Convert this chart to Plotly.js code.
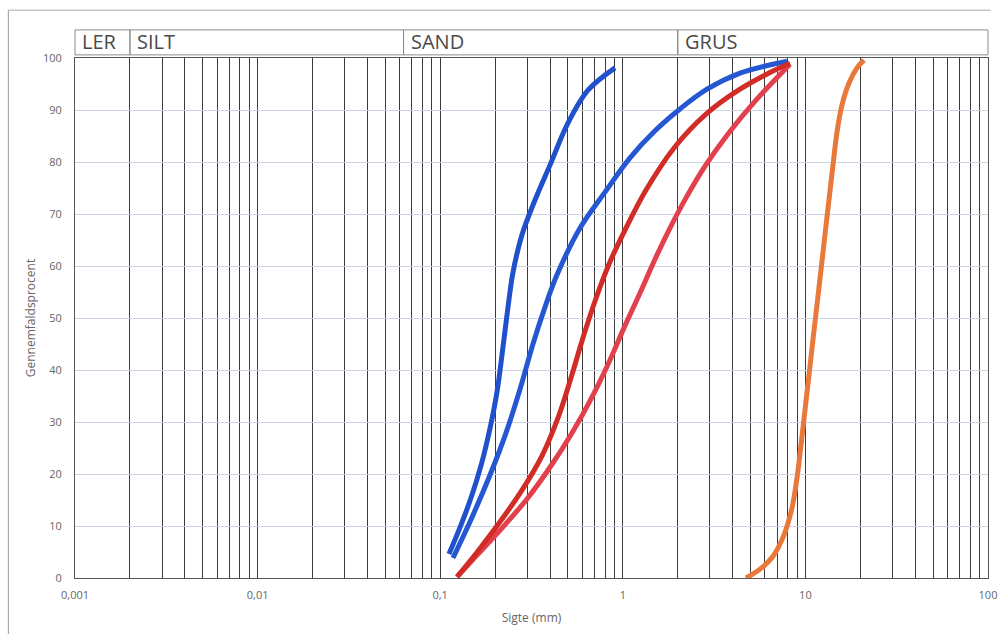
<!DOCTYPE html>
<html>
<head>
<meta charset="utf-8">
<script src="https://cdn.plot.ly/plotly-3.0.1.min.js"></script>
<style>html,body{margin:0;padding:0;background:#fff;}#chart{width:1002px;height:634px;}</style>
</head>
<body>
<div id="chart"></div>
<script>
// Tick labels and decades
const decadeVals = [0.001, 0.01, 0.1, 1, 10, 100];
const decadeLabels = ["0,001", "0,01", "0,1", "1", "10", "100"];
const yTicks = [0, 10, 20, 30, 40, 50, 60, 70, 80, 90, 100];

// Soil class header
const classNames = ["LER", "SILT", "SAND", "GRUS"];
const classBounds = [0.001, 0.002, 0.063, 2, 100];

// Series (sieve size mm, passing %)
const blueA_x = [0.1117, 0.1300, 0.1494, 0.1693, 0.1874, 0.2047, 0.2180, 0.2322, 0.2505, 0.2805, 0.3306, 0.3993, 0.4948, 0.6449, 0.9065];
const blueA_y = [4.6, 10.2, 16.0, 22.3, 28.8, 35.8, 42.9, 50.6, 58.8, 66.0, 72.7, 79.4, 87.1, 93.8, 98.1];

const blueB_x = [0.1175, 0.1494, 0.1874, 0.2293, 0.2735, 0.3222, 0.3749, 0.4362, 0.5831, 0.7990, 1.095, 1.501, 2.057, 2.892, 4.384, 6.644, 7.928];
const blueB_y = [3.85, 11.7, 19.8, 27.9, 36.3, 45.0, 52.1, 58.3, 67.3, 74.2, 80.8, 86.0, 90.2, 94.0, 97.1, 98.8, 99.4];

const redA_x = [0.1236, 0.1611, 0.2126, 0.2805, 0.3609, 0.4417, 0.5204, 0.6053, 0.7132, 0.8510, 1.028, 1.340, 1.908, 2.855, 4.384, 6.644, 8.236];
const redA_y = [0.2, 5.2, 10.8, 16.9, 23.5, 30.8, 38.5, 46.2, 53.8, 60.8, 66.9, 74.6, 82.7, 89.2, 94.0, 97.5, 99.0];

const redB_x = [0.1236, 0.1611, 0.2180, 0.2988, 0.3993, 0.5269, 0.6781, 0.8401, 1.0153, 1.2424, 1.501, 1.813, 2.219, 2.820, 3.768, 5.364, 8.236];
const redB_y = [0.2, 4.6, 9.6, 15.2, 21.3, 27.9, 34.8, 41.5, 48.1, 54.8, 61.3, 67.3, 73.1, 79.2, 85.4, 91.9, 98.8];

const orange_x = [4.727, 5.641, 6.645, 7.636, 8.446, 8.995, 9.461, 9.950, 10.46, 11.00, 11.57, 12.17, 12.80, 13.46, 14.16, 14.90, 15.87, 17.33, 19.17, 20.94];
const orange_y = [0, 1.7, 4.2, 8.3, 13.5, 19.2, 25.6, 32.3, 39.0, 45.8, 52.5, 59.2, 66.0, 72.7, 79.4, 85.8, 91.0, 95.2, 98.1, 99.6];

// grid values at every digit of every decade
const gridVals = [];
const gridText = [];
for (let d = 0; d < decadeVals.length; d++) {
  for (let k = 1; k <= 9; k++) {
    if (d === decadeVals.length - 1 && k > 1) break;
    gridVals.push(decadeVals[d] * k);
    gridText.push(k === 1 ? decadeLabels[d] : "");
  }
}

const logMin = Math.log10(decadeVals[0]);
const logMax = Math.log10(decadeVals[decadeVals.length - 1]);
const frac = v => (Math.log10(v) - logMin) / (logMax - logMin);

function curve(x, y, color) {
  return {x: x, y: y, type: "scatter", mode: "lines",
    line: {color: color, width: 5, shape: "spline", smoothing: 1.0},
    hoverinfo: "skip", showlegend: false};
}

const traces = [
  curve(blueA_x, blueA_y, "#2150cc"),
  curve(blueB_x, blueB_y, "#2557d2"),
  curve(redB_x, redB_y, "#e2404c"),
  curve(redA_x, redA_y, "#d22c26"),
  curve(orange_x, orange_y, "#e8793b")
];

const shapes = [];
const annotations = [];
for (let i = 0; i < classNames.length; i++) {
  shapes.push({type: "rect", xref: "paper", yref: "paper",
    x0: frac(classBounds[i]), x1: frac(classBounds[i + 1]), y0: 1.006, y1: 1.054,
    line: {color: "#8a8a8a", width: 1}, fillcolor: "rgba(0,0,0,0)"});
  annotations.push({xref: "paper", yref: "paper", x: frac(classBounds[i]) + 0.006, y: 1.031,
    xanchor: "left", yanchor: "middle", text: classNames[i], showarrow: false,
    font: {family: "Open Sans", size: 20, color: "#4a4a4a"}});
}
// paper border (scan edge)
shapes.push({type: "line", xref: "paper", yref: "paper", x0: -0.073, x1: -0.073, y0: -0.12, y1: 1.092,
  line: {color: "#9a9a9a", width: 1}});
shapes.push({type: "line", xref: "paper", yref: "paper", x0: -0.073, x1: 1.003, y0: 1.092, y1: 1.092,
  line: {color: "#aaaaaa", width: 1}});

const layout = {
  width: 1002, height: 634,
  margin: {l: 75, r: 14, t: 58, b: 56},
  paper_bgcolor: "#ffffff", plot_bgcolor: "#ffffff",
  showlegend: false,
  font: {family: "Open Sans", color: "#555"},
  xaxis: {
    type: "log", range: [logMin, logMax],
    tickmode: "array", tickvals: gridVals, ticktext: gridText,
    showgrid: true, gridcolor: "#3a3a3a", gridwidth: 1,
    ticks: "", ticklabelstandoff: 7,
    tickfont: {family: "Open Sans", size: 11, color: "#666"},
    showline: true, linecolor: "#555", linewidth: 1, mirror: true,
    zeroline: false,
    title: {text: "Sigte (mm)", font: {family: "Open Sans", size: 12, color: "#666"}, standoff: 12}
  },
  yaxis: {
    range: [0, 100], tickmode: "array", tickvals: yTicks,
    showgrid: true, gridcolor: "#cdd2e2", gridwidth: 1,
    ticks: "", ticklabelstandoff: 10,
    tickfont: {family: "Open Sans", size: 11, color: "#666"},
    showline: true, linecolor: "#555", linewidth: 1, mirror: true,
    zeroline: false,
    title: {text: "Gennemfaldsprocent", font: {family: "Open Sans", size: 12, color: "#666"}, standoff: 4}
  },
  shapes: shapes,
  annotations: annotations
};

Plotly.newPlot("chart", traces, layout, {displayModeBar: false, staticPlot: true});
</script>
</body>
</html>
